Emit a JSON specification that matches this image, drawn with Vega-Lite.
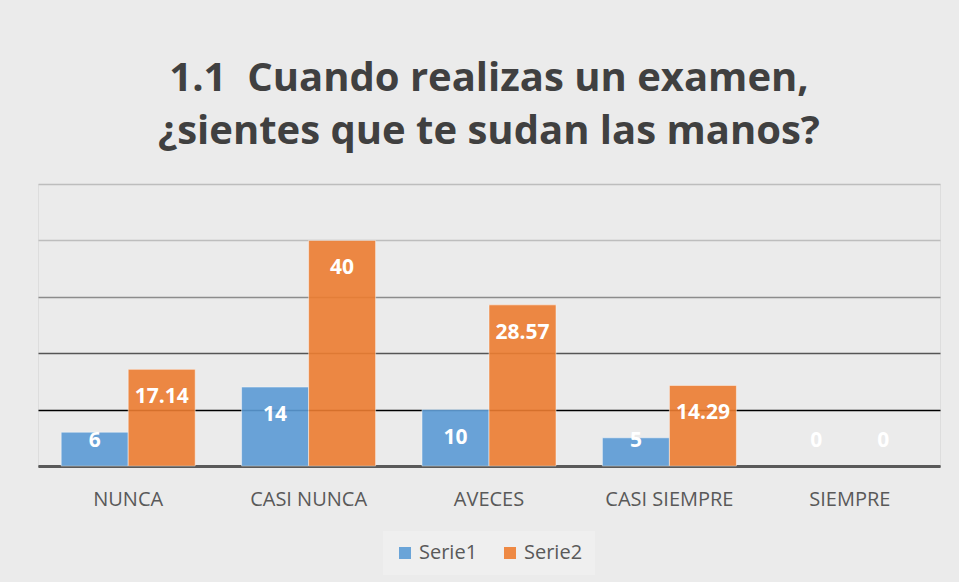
{
  "$schema": "https://vega.github.io/schema/vega-lite/v6.json",
  "width": 902,
  "height": 282,
  "autosize": {"type": "none"},
  "padding": {"left": 38, "top": 184, "right": 19, "bottom": 116},
  "background": "#ebebeb",
  "title": {
    "text": ["1.1\u00a0 Cuando realizas un examen,", "¿sientes que te sudan las manos?"],
    "font": "Open Sans",
    "fontSize": 40,
    "fontWeight": "bold",
    "color": "#404040",
    "lineHeight": 53,
    "frame": "group",
    "anchor": "middle",
    "offset": 32
  },
  "config": {
    "legend": {"layout": {"bottom": {"anchor": "middle"}}}
  },
  "data": {
    "values": [
      {"categoria": "NUNCA", "serie": "Serie1", "valor": 6},
      {"categoria": "NUNCA", "serie": "Serie2", "valor": 17.14},
      {"categoria": "CASI NUNCA", "serie": "Serie1", "valor": 14},
      {"categoria": "CASI NUNCA", "serie": "Serie2", "valor": 40},
      {"categoria": "AVECES", "serie": "Serie1", "valor": 10},
      {"categoria": "AVECES", "serie": "Serie2", "valor": 28.57},
      {"categoria": "CASI SIEMPRE", "serie": "Serie1", "valor": 5},
      {"categoria": "CASI SIEMPRE", "serie": "Serie2", "valor": 14.29},
      {"categoria": "SIEMPRE", "serie": "Serie1", "valor": 0},
      {"categoria": "SIEMPRE", "serie": "Serie2", "valor": 0}
    ]
  },
  "encoding": {
    "x": {
      "field": "categoria",
      "type": "nominal",
      "sort": ["NUNCA", "CASI NUNCA", "AVECES", "CASI SIEMPRE", "SIEMPRE"],
      "scale": {"paddingInner": 0.257, "paddingOuter": 0.1285},
      "title": null,
      "axis": {
        "labelAngle": 0,
        "ticks": false,
        "labelPadding": 23,
        "labelFont": "Open Sans",
        "labelFontSize": 20,
        "labelColor": "#595959",
        "domainColor": "#595959",
        "domainWidth": 3,
        "grid": false
      }
    },
    "xOffset": {"field": "serie", "type": "nominal"},
    "y": {
      "field": "valor",
      "type": "quantitative",
      "scale": {"domain": [0, 50]},
      "title": null,
      "axis": {
        "labels": false,
        "ticks": false,
        "domain": false,
        "values": [0, 10, 20, 30, 40, 50],
        "gridWidth": 1.5,
        "gridColor": {
          "condition": [
            {"test": "datum.value === 10", "value": "#000000"},
            {"test": "datum.value === 20", "value": "#555555"},
            {"test": "datum.value === 30", "value": "#8c8c8c"},
            {"test": "datum.value === 0", "value": "#595959"}
          ],
          "value": "#bdbdbd"
        }
      }
    }
  },
  "layer": [
    {
      "mark": {
        "type": "bar",
        "opacity": 0.9,
        "stroke": "#ffffff",
        "strokeWidth": 1,
        "strokeOpacity": {"expr": "datum.valor > 0 ? 0.5 : 0"}
      },
      "encoding": {
        "color": {
          "field": "serie",
          "type": "nominal",
          "scale": {"range": ["#5b9bd5", "#ed7d31"]},
          "legend": {
            "title": null,
            "orient": "bottom",
            "direction": "horizontal",
            "symbolType": "square",
            "symbolSize": 144,
            "symbolStrokeWidth": 0,
            "labelFont": "Open Sans",
            "labelFontSize": 20,
            "labelColor": "#595959",
            "columnPadding": 22,
            "offset": 22,
            "padding": 12,
            "fillColor": "#efefef"
          }
        }
      }
    },
    {
      "mark": {
        "type": "text",
        "color": "#ffffff",
        "font": "Open Sans",
        "fontWeight": "bold",
        "fontSize": 21,
        "baseline": "middle",
        "dy": {"expr": "min(28, datum.valor * 5.64 - 25)"}
      },
      "encoding": {
        "text": {"field": "valor", "type": "nominal"}
      }
    }
  ]
}
